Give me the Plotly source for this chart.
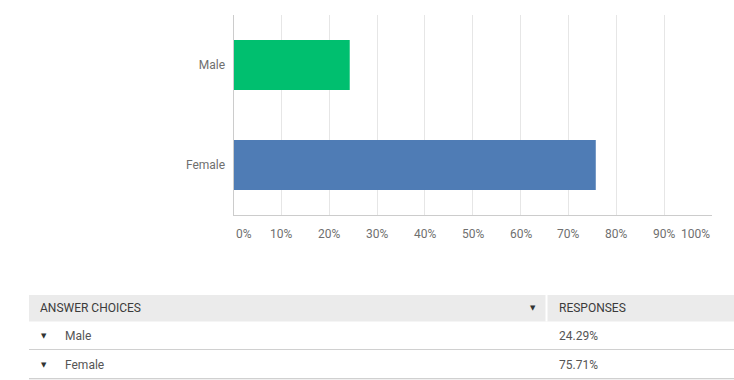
import plotly.graph_objects as go

# ---- data ----
categories = ["Female", "Male"]
values = [75.71, 24.29]
bar_colors = ["#4f7cb5", "#00bf6f"]
tick_vals = [0, 10, 20, 30, 40, 50, 60, 70, 80, 90, 100]
tick_text = ["0%", "10%", "20%", "30%", "40%", "50%", "60%", "70%", "80%", "90%", "100%"]
table_header = ["ANSWER CHOICES", "RESPONSES"]
table_choices = ["Male", "Female"]
table_responses = ["24.29%", "75.71%"]

W, H = 734, 380
FONT = "Roboto"

fig = go.Figure()
fig.add_trace(go.Bar(
    x=values, y=categories, orientation="h",
    marker=dict(color=bar_colors, line=dict(width=0)),
    width=0.5, hoverinfo="skip", showlegend=False,
))

def py(v):
    return 1 - v / H

fig.update_layout(
    width=W, height=H,
    margin=dict(l=0, r=0, t=0, b=0),
    paper_bgcolor="white", plot_bgcolor="white",
    font=dict(family=FONT, size=12, color="#6f6f6f"),
    xaxis=dict(domain=[233.5 / W, 712 / W], range=[0, 100], tickvals=tick_vals,
               showticklabels=False, showgrid=True, gridcolor="#e6e6e6", gridwidth=1,
               zeroline=False, showline=True, linecolor="#cccccc", linewidth=1,
               fixedrange=True),
    yaxis=dict(domain=[py(215), py(15)], categoryorder="array", categoryarray=categories,
               showgrid=False, zeroline=False, showline=True, linecolor="#cccccc",
               linewidth=1, ticks="", ticklabelstandoff=5,
               tickfont=dict(family=FONT, size=12, color="#6f6f6f"), fixedrange=True),
)

annotations = []
# x tick labels (clamped at ends like the original)
for v, t in zip(tick_vals, tick_text):
    anchor = "left" if v == min(tick_vals) else ("right" if v == max(tick_vals) else "center")
    annotations.append(dict(x=v, y=py(234), xref="x", yref="paper", text=t, showarrow=False,
                            xanchor=anchor, yanchor="middle",
                            font=dict(family=FONT, size=12, color="#6f6f6f")))

shapes = []
# table header
shapes.append(dict(type="rect", xref="paper", yref="paper", x0=29 / W, x1=1, y0=py(321.5), y1=py(295),
                   fillcolor="#ebebeb", line=dict(width=0), layer="below"))
shapes.append(dict(type="line", xref="paper", yref="paper", x0=546.5 / W, x1=546.5 / W,
                   y0=py(321.5), y1=py(295), line=dict(color="white", width=2)))
# row lines
row_tops = [322, 351]
row_h = 28
for i in range(len(table_choices)):
    yb = row_tops[i] + row_h
    shapes.append(dict(type="line", xref="paper", yref="paper", x0=29 / W, x1=1,
                       y0=py(yb - 0.5), y1=py(yb - 0.5), line=dict(color="#d0d0d0", width=1)))
shapes.append(dict(type="rect", xref="paper", yref="paper", x0=29 / W, x1=1, y0=0, y1=py(379),
                   fillcolor="#f0f0f0", line=dict(width=0), layer="below"))

annotations.append(dict(x=38 / W, y=py(308), xref="paper", yref="paper", text=table_header[0],
                        showarrow=False, xanchor="left", yanchor="middle",
                        font=dict(family=FONT, size=12, color="#3b3b3b")))
annotations.append(dict(x=533 / W, y=py(308), xref="paper", yref="paper", text="▼",
                        showarrow=False, xanchor="center", yanchor="middle",
                        font=dict(family="DejaVu Sans", size=7, color="#333333")))
annotations.append(dict(x=557 / W, y=py(308), xref="paper", yref="paper", text=table_header[1],
                        showarrow=False, xanchor="left", yanchor="middle",
                        font=dict(family=FONT, size=12, color="#3b3b3b")))
for i, (c, r) in enumerate(zip(table_choices, table_responses)):
    yc = row_tops[i] + row_h / 2
    annotations.append(dict(x=44 / W, y=py(yc), xref="paper", yref="paper", text="▼",
                            showarrow=False, xanchor="center", yanchor="middle",
                            font=dict(family="DejaVu Sans", size=7, color="#333333")))
    annotations.append(dict(x=63 / W, y=py(yc), xref="paper", yref="paper", text=c,
                            showarrow=False, xanchor="left", yanchor="middle",
                            font=dict(family=FONT, size=12, color="#555555")))
    annotations.append(dict(x=557 / W, y=py(yc), xref="paper", yref="paper", text=r,
                            showarrow=False, xanchor="left", yanchor="middle",
                            font=dict(family=FONT, size=12, color="#555555")))

fig.update_layout(annotations=annotations, shapes=shapes)
fig.write_html("out.html", config={"displayModeBar": False},
               post_script="document.body.style.margin='0px';document.body.style.overflow='hidden';")
